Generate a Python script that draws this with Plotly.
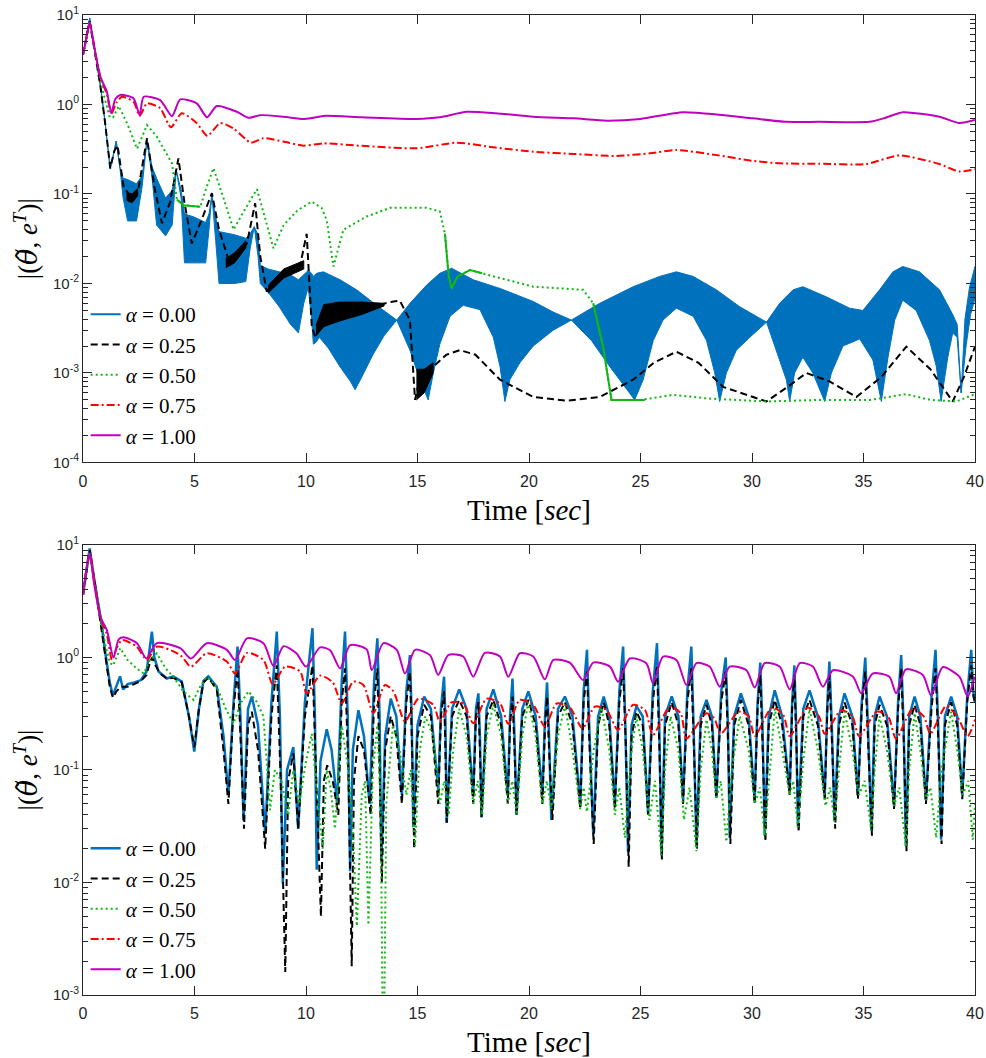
import plotly.graph_objects as go

# ---------------- TOP PANEL DATA ----------------
top_mag_x = [0, 0.15, 0.3, 0.5, 0.78, 1.07, 1.27, 1.45, 1.67, 2.27, 2.54, 2.72, 3.46, 3.99, 4.36, 5.1, 5.56, 6.0, 6.9, 7.42, 7.94, 8.98, 9.88, 10.2, 10.78, 12.5, 14.96, 16.0, 17.2, 18.5, 20.19, 22.0, 23.48, 25.0, 26.9, 28.5, 30.04, 31.54, 33.0, 35.27, 35.9, 36.76, 38.4, 39.3, 40.0]
top_mag_y = [3.6, 5.5, 8.2, 4.5, 2.04, 1.39, 0.80, 1.15, 1.28, 1.17, 0.76, 1.22, 1.12, 0.74, 1.14, 1.03, 0.72, 0.96, 0.83, 0.71, 0.76, 0.73, 0.69, 0.70, 0.745, 0.72, 0.69, 0.72, 0.83, 0.80, 0.73, 0.70, 0.66, 0.69, 0.82, 0.77, 0.70, 0.64, 0.64, 0.64, 0.70, 0.82, 0.73, 0.62, 0.67]

top_red_x = [0, 0.15, 0.3, 0.5, 0.78, 1.07, 1.27, 1.5, 1.75, 2.27, 2.54, 2.87, 3.46, 3.94, 4.43, 5.1, 5.58, 6.15, 6.75, 7.53, 8.09, 8.99, 9.88, 10.77, 12.5, 14.96, 16.76, 18.5, 20.19, 22.0, 23.92, 25.42, 26.61, 28.5, 30.0, 31.24, 33.0, 35.12, 36.61, 38.41, 39.3, 40.0]
top_red_y = [3.6, 5.5, 8.2, 4.5, 2.0, 1.3, 0.78, 1.05, 1.22, 1.07, 0.745, 1.03, 0.91, 0.556, 0.80, 0.62, 0.445, 0.62, 0.54, 0.374, 0.42, 0.385, 0.347, 0.368, 0.345, 0.324, 0.374, 0.33, 0.297, 0.28, 0.266, 0.285, 0.31, 0.27, 0.235, 0.22, 0.218, 0.216, 0.27, 0.216, 0.178, 0.189]

top_green_x = [0, 0.15, 0.3, 0.5, 0.78, 1.0, 1.2, 1.35, 1.6, 2.0, 2.42, 2.87, 3.31, 3.99, 4.21, 4.5, 5.26, 5.55, 5.85, 6.3, 6.75, 7.3, 7.8, 8.2, 8.54, 9.0, 9.6, 10.26, 10.7, 10.93, 11.23, 11.68, 12.72, 13.77, 15.41, 16.0, 16.23, 16.4, 16.53, 16.8, 17.35, 18.7, 20.19, 22.43, 22.88, 23.32, 23.7, 24.0, 25.0, 26.46, 27.96, 30.65, 33.0, 35.3, 36.9, 38.0, 39.16, 40.0]
top_green_y = [3.6, 5.5, 8.5, 4.3, 1.8, 1.1, 0.72, 0.72, 0.96, 0.6, 0.32, 0.59, 0.437, 0.22, 0.087, 0.075, 0.072, 0.121, 0.194, 0.09, 0.04, 0.07, 0.113, 0.05, 0.0247, 0.045, 0.065, 0.082, 0.07, 0.051, 0.0155, 0.04, 0.056, 0.070, 0.070, 0.064, 0.036, 0.012, 0.0088, 0.012, 0.0141, 0.0115, 0.0092, 0.0085, 0.006, 0.00197, 0.0005, 0.0005, 0.0005, 0.00057, 0.00052, 0.00048, 0.0005, 0.0005, 0.00058, 0.0005, 0.00048, 0.00058]
# parts of the alpha = 0.50 curve where fast ripple makes the dotted line look solid
top_green_solid = [
    [(4.21, 0.087), (4.5, 0.075), (5.26, 0.072)],
    [(16.23, 0.036), (16.4, 0.012), (16.53, 0.0088), (16.8, 0.012), (17.35, 0.0141), (17.9, 0.013)],
    [(22.88, 0.006), (23.32, 0.00197), (23.7, 0.0005), (24.0, 0.0005), (25.2, 0.0005)],
]

top_black_x = [0, 0.15, 0.3, 0.5, 0.78, 1.0, 1.22, 1.4, 1.55, 1.82, 2.19, 2.5, 2.87, 3.2, 3.54, 3.9, 4.28, 4.55, 4.88, 5.3, 5.78, 6.1, 6.6, 7.35, 7.72, 7.95, 8.24, 8.99, 9.74, 10.03, 10.26, 10.41, 11.08, 12.5, 13.92, 14.21, 14.66, 14.89, 15.11, 15.71, 16.3, 16.9, 17.6, 18.7, 20.19, 21.68, 23.17, 24.67, 25.6, 26.61, 27.6, 28.7, 30.65, 31.6, 32.44, 33.5, 34.68, 35.8, 36.92, 38.0, 39.0, 39.5, 40.0]
top_black_y = [3.6, 5.5, 8.5, 4.3, 1.6, 0.6, 0.194, 0.3, 0.35, 0.12, 0.0895, 0.12, 0.42, 0.12, 0.047, 0.08, 0.25, 0.08, 0.028, 0.05, 0.102, 0.04, 0.0161, 0.028, 0.0787, 0.02, 0.0081, 0.013, 0.016, 0.036, 0.0033, 0.00255, 0.00506, 0.0052, 0.0063, 0.0064, 0.0039, 0.0005, 0.0009, 0.00118, 0.0016, 0.0018, 0.0016, 0.00084, 0.00054, 0.00049, 0.00054, 0.00084, 0.0013, 0.00173, 0.0013, 0.0007, 0.00048, 0.0007, 0.001, 0.0008, 0.00054, 0.0009, 0.00197, 0.0011, 0.00048, 0.0009, 0.00197]

# thick (fast-oscillation) parts of the black curve: (upper envelope, lower envelope)
top_black_bands = [
    ([(1.95, 0.105), (2.2, 0.1), (2.45, 0.115)], [(1.95, 0.085), (2.2, 0.08), (2.45, 0.095)]),
    ([(6.4, 0.019), (6.8, 0.022), (7.3, 0.03)], [(6.4, 0.015), (6.8, 0.017), (7.3, 0.025)]),
    ([(8.3, 0.0095), (9.0, 0.0145), (9.9, 0.018)], [(8.3, 0.0078), (9.0, 0.0115), (9.9, 0.0145)]),
    ([(10.45, 0.0034), (10.8, 0.0058), (11.5, 0.0062), (12.5, 0.0062), (13.5, 0.006)],
     [(10.45, 0.0026), (10.8, 0.0033), (11.5, 0.0038), (12.5, 0.0045), (13.5, 0.0056)]),
    ([(14.95, 0.0011), (15.3, 0.0011), (15.7, 0.0013)], [(14.95, 0.0005), (15.3, 0.0006), (15.7, 0.001)]),
]

# alpha = 0 curve oscillates fast: upper / lower envelopes
top_blue_hi = [(0, 3.6), (0.15, 6.0), (0.3, 9.2), (0.5, 4.5), (0.8, 1.5), (1.0, 0.6), (1.22, 0.19), (1.35, 0.26), (1.49, 0.39), (1.65, 0.2), (1.8, 0.15), (2.0, 0.145), (2.4, 0.13), (2.65, 0.16), (2.87, 0.40), (3.1, 0.2), (3.3, 0.15), (3.7, 0.09), (4.0, 0.11), (4.18, 0.185), (4.4, 0.11), (4.55, 0.06), (5.0, 0.055), (5.5, 0.048), (5.65, 0.06), (5.78, 0.098), (5.95, 0.055), (6.1, 0.038), (6.8, 0.035), (7.3, 0.032), (7.5, 0.036), (7.68, 0.043), (7.85, 0.035), (7.95, 0.016), (8.3, 0.0145), (8.8, 0.0135), (9.3, 0.0125), (9.66, 0.011), (9.9, 0.0125), (10.1, 0.014), (10.25, 0.013), (10.33, 0.012), (10.48, 0.013), (10.78, 0.0135), (11.53, 0.011), (12.27, 0.0085), (13.17, 0.0057), (14.07, 0.0039), (14.66, 0.006), (15.41, 0.0096), (16.0, 0.013), (16.53, 0.0148), (17.5, 0.011), (18.7, 0.0088), (20.19, 0.0063), (21.08, 0.0048), (21.9, 0.0039), (23.17, 0.006), (24.67, 0.0092), (25.86, 0.012), (26.61, 0.0135), (27.36, 0.012), (28.4, 0.0085), (29.45, 0.0055), (30.65, 0.0037), (31.24, 0.006), (31.84, 0.0085), (32.28, 0.0092), (33.33, 0.0071), (34.38, 0.0053), (34.97, 0.005), (35.72, 0.0085), (36.32, 0.0135), (36.76, 0.0155), (37.51, 0.0135), (38.41, 0.0085), (39.0, 0.0045), (39.2, 0.0035), (39.38, 0.0006), (39.55, 0.004), (39.75, 0.009), (40.0, 0.0155)]
top_blue_lo = [(0, 3.6), (0.15, 6.0), (0.3, 9.2), (0.5, 4.5), (0.8, 1.5), (1.0, 0.6), (1.22, 0.19), (1.35, 0.26), (1.49, 0.39), (1.65, 0.2), (1.8, 0.09), (2.0, 0.05), (2.4, 0.05), (2.65, 0.12), (2.87, 0.40), (3.1, 0.15), (3.3, 0.045), (3.7, 0.034), (4.0, 0.045), (4.18, 0.185), (4.4, 0.09), (4.55, 0.017), (5.0, 0.017), (5.5, 0.017), (5.65, 0.04), (5.78, 0.098), (5.95, 0.03), (6.1, 0.01), (6.8, 0.01), (7.3, 0.0105), (7.5, 0.025), (7.68, 0.043), (7.85, 0.02), (7.95, 0.01), (8.3, 0.008), (8.8, 0.0055), (9.3, 0.0035), (9.66, 0.0028), (9.9, 0.006), (10.1, 0.009), (10.25, 0.004), (10.33, 0.0021), (10.45, 0.0022), (10.6, 0.0025), (11.0, 0.0019), (11.5, 0.0012), (12.0, 0.0008), (12.2, 0.00065), (12.5, 0.0009), (13.0, 0.0016), (13.5, 0.0026), (14.07, 0.0039), (14.66, 0.0018), (15.11, 0.00084), (15.48, 0.0005), (15.71, 0.001), (16.0, 0.0021), (16.46, 0.0043), (17.05, 0.0057), (17.8, 0.0051), (18.4, 0.0025), (18.7, 0.00118), (18.92, 0.00048), (19.14, 0.00084), (19.59, 0.0013), (20.19, 0.002), (21.08, 0.003), (21.9, 0.0039), (22.8, 0.0023), (23.6, 0.0012), (24.3, 0.0007), (24.74, 0.0005), (25.12, 0.00084), (25.57, 0.0023), (26.01, 0.0039), (26.61, 0.0053), (27.36, 0.0043), (27.96, 0.0023), (28.33, 0.001), (28.55, 0.00048), (28.85, 0.001), (29.3, 0.0018), (29.9, 0.0025), (30.65, 0.0037), (31.09, 0.0018), (31.54, 0.00084), (31.69, 0.00048), (31.91, 0.001), (32.28, 0.0015), (32.73, 0.001), (33.26, 0.00048), (33.56, 0.001), (34.08, 0.002), (34.83, 0.0024), (35.42, 0.0014), (35.8, 0.00048), (36.1, 0.0015), (36.4, 0.0039), (36.76, 0.0065), (37.36, 0.005), (37.96, 0.0023), (38.26, 0.0012), (38.48, 0.00048), (38.78, 0.0015), (39.0, 0.0028), (39.2, 0.0025), (39.38, 0.0006), (39.6, 0.002), (39.8, 0.0045), (40.0, 0.0068)]

# ---------------- BOTTOM PANEL DATA ----------------
bot_mag = [(0, 3.6), (0.15, 6.0), (0.3, 8.4), (0.5, 4.5), (0.78, 2.3), (1.07, 1.75), (1.37, 1.0), (1.6, 1.45), (1.82, 1.51), (2.42, 1.34), (2.84, 0.98), (3.31, 1.34), (4.36, 1.21), (4.84, 0.98), (5.55, 1.34), (6.45, 1.17), (6.82, 0.95), (7.35, 1.48), (8.09, 1.34), (8.54, 0.84), (8.99, 1.26), (9.57, 1.09), (10.0, 0.83), (10.63, 1.23), (11.08, 1.16), (11.53, 0.80), (11.98, 1.29), (12.72, 1.18), (12.95, 0.77), (13.47, 1.34), (14.07, 1.17), (14.44, 0.72), (14.89, 1.17), (15.56, 1.05), (15.93, 0.70), (16.38, 1.05), (17.05, 1.02), (17.5, 0.675), (18.02, 1.10), (18.7, 1.02), (19.07, 0.675), (19.59, 1.09), (20.19, 1.02), (20.71, 0.64), (21.09, 0.95), (21.83, 0.90), (22.43, 0.63), (22.88, 0.90), (23.63, 0.83), (23.99, 0.61), (24.52, 0.98), (25.26, 0.89), (25.56, 0.59), (26.01, 1.02), (26.61, 0.95), (27.06, 0.57), (27.51, 0.89), (28.1, 0.83), (28.55, 0.55), (29.0, 0.83), (29.75, 0.77), (30.12, 0.54), (30.57, 0.89), (31.24, 0.83), (31.69, 0.52), (32.14, 0.89), (32.73, 0.83), (33.18, 0.55), (33.63, 0.77), (34.53, 0.675), (34.9, 0.48), (35.41, 0.72), (36.16, 0.675), (36.46, 0.48), (36.9, 0.785), (37.66, 0.70), (38.03, 0.46), (38.55, 0.82), (39.3, 0.675), (39.67, 0.45), (39.98, 0.675)]

bot_red = [(0, 3.6), (0.15, 6.0), (0.3, 8.5), (0.5, 5.0), (0.8, 2.2), (1.07, 1.6), (1.3, 0.95), (1.5, 1.2), (1.75, 1.43), (2.4, 1.25), (2.87, 0.95), (3.31, 1.25), (4.36, 1.05), (4.84, 0.83), (5.55, 1.09), (6.45, 0.92), (6.82, 0.72), (7.35, 1.1), (8.09, 0.95), (8.51, 0.58), (9.07, 0.83), (9.74, 0.75), (10.03, 0.48), (10.63, 0.69), (11.2, 0.6), (11.6, 0.39), (12.12, 0.61), (12.57, 0.57), (13.02, 0.32), (13.54, 0.57), (13.92, 0.5), (14.44, 0.27), (15.04, 0.43), (15.71, 0.38), (16.0, 0.27), (16.53, 0.40), (17.05, 0.39), (17.5, 0.26), (18.1, 0.43), (18.7, 0.39), (19.07, 0.257), (19.59, 0.42), (20.19, 0.38), (20.71, 0.243), (21.24, 0.39), (21.83, 0.36), (22.4, 0.234), (22.95, 0.366), (23.48, 0.34), (23.99, 0.227), (24.67, 0.38), (25.2, 0.34), (25.56, 0.205), (26.31, 0.366), (26.8, 0.32), (27.06, 0.19), (27.96, 0.32), (28.3, 0.29), (28.6, 0.21), (29.4, 0.33), (29.85, 0.3), (30.12, 0.20), (30.9, 0.36), (31.4, 0.31), (31.69, 0.2), (32.5, 0.36), (33.0, 0.3), (33.26, 0.21), (34.0, 0.34), (34.5, 0.3), (34.8, 0.2), (35.6, 0.33), (36.1, 0.3), (36.46, 0.19), (37.2, 0.35), (37.7, 0.3), (38.0, 0.21), (38.7, 0.37), (39.2, 0.3), (39.67, 0.2), (40.0, 0.28)]

bot_green = [(0, 3.6), (0.15, 6.0), (0.3, 8.5), (0.5, 5.0), (0.8, 2.1), (1.0, 1.3), (1.2, 0.9), (1.35, 0.85), (1.67, 1.21), (2.0, 0.95), (2.4, 0.8), (2.72, 0.72), (3.0, 0.95), (3.31, 1.09), (3.7, 0.8), (4.05, 0.675), (4.5, 0.5), (4.96, 0.42), (5.25, 0.55), (5.55, 0.675), (6.0, 0.55), (6.4, 0.35), (6.75, 0.26), (7.1, 0.4), (7.42, 0.5), (7.8, 0.4), (8.09, 0.3), (8.39, 0.044), (8.6, 0.1), (8.9, 0.08), (9.2, 0.04), (9.43, 0.1), (9.7, 0.05), (10.0, 0.12), (10.26, 0.21), (10.5, 0.06), (10.75, 0.02), (10.93, 0.1), (11.1, 0.07), (11.3, 0.03), (11.6, 0.25), (11.9, 0.1), (12.1, 0.03), (12.28, 0.0041), (12.5, 0.06), (12.65, 0.08), (12.8, 0.0042), (13.0, 0.1), (13.2, 0.25), (13.35, 0.05), (13.47, 0.0001), (13.6, 0.05), (13.9, 0.25), (14.2, 0.15), (14.5, 0.06), (14.7, 0.1), (14.89, 0.021), (15.1, 0.15), (15.35, 0.3), (15.7, 0.2), (16.0, 0.05), (16.2, 0.08), (16.4, 0.04), (16.6, 0.15), (16.87, 0.35), (17.2, 0.2), (17.5, 0.05), (17.7, 0.08), (17.9, 0.04), (18.1, 0.2), (18.4, 0.38), (18.75, 0.2), (19.05, 0.05), (19.25, 0.08), (19.45, 0.04), (19.7, 0.2), (19.97, 0.4), (20.3, 0.2), (20.6, 0.05), (20.8, 0.08), (21.0, 0.045), (21.3, 0.2), (21.61, 0.38), (21.95, 0.15), (22.3, 0.045), (22.45, 0.07), (22.6, 0.0426), (22.9, 0.15), (23.25, 0.36), (23.6, 0.15), (23.85, 0.04), (24.05, 0.07), (24.3, 0.025), (24.6, 0.15), (24.82, 0.3), (25.1, 0.15), (25.4, 0.036), (25.65, 0.08), (25.94, 0.0175), (26.1, 0.1), (26.35, 0.3), (26.7, 0.15), (26.95, 0.036), (27.2, 0.07), (27.51, 0.019), (27.7, 0.1), (27.96, 0.28), (28.2, 0.15), (28.4, 0.055), (28.6, 0.08), (28.85, 0.023), (29.1, 0.1), (29.45, 0.3), (29.85, 0.15), (30.12, 0.05), (30.35, 0.07), (30.57, 0.026), (30.8, 0.1), (31.02, 0.35), (31.35, 0.15), (31.69, 0.06), (31.85, 0.08), (32.06, 0.031), (32.3, 0.12), (32.58, 0.35), (32.95, 0.15), (33.3, 0.048), (33.5, 0.07), (33.7, 0.035), (33.9, 0.1), (34.15, 0.33), (34.5, 0.15), (34.8, 0.06), (35.05, 0.08), (35.35, 0.029), (35.5, 0.1), (35.72, 0.3), (36.05, 0.15), (36.37, 0.048), (36.6, 0.07), (36.9, 0.021), (37.05, 0.1), (37.29, 0.32), (37.55, 0.15), (37.8, 0.054), (38.0, 0.07), (38.26, 0.025), (38.5, 0.1), (38.93, 0.33), (39.2, 0.15), (39.45, 0.06), (39.7, 0.08), (39.9, 0.024), (40.0, 0.05)]

bot_black = [(0, 3.6), (0.15, 6.0), (0.3, 9.0), (0.5, 5.0), (0.8, 2.0), (1.0, 1.0), (1.2, 0.55), (1.34, 0.44), (1.5, 0.5), (1.7, 0.55), (2.0, 0.55), (2.3, 0.58), (2.6, 0.62), (2.85, 0.7), (3.0, 0.9), (3.1, 1.0), (3.25, 0.85), (3.45, 0.72), (3.76, 0.65), (4.05, 0.66), (4.43, 0.6), (4.75, 0.3), (4.99, 0.16), (5.2, 0.35), (5.4, 0.6), (5.62, 0.66), (6.0, 0.52), (6.3, 0.15), (6.52, 0.05), (6.75, 0.35), (6.93, 0.8), (7.06, 0.2), (7.22, 0.03), (7.4, 0.25), (7.57, 0.33), (7.85, 0.15), (8.17, 0.02), (8.45, 0.3), (8.69, 0.85), (8.85, 0.1), (9.07, 0.0016), (9.2, 0.08), (9.43, 0.14), (9.65, 0.03), (9.95, 0.3), (10.29, 0.85), (10.45, 0.1), (10.67, 0.005), (10.8, 0.08), (10.95, 0.11), (11.2, 0.08), (11.45, 0.04), (11.6, 0.4), (11.75, 0.8), (11.9, 0.1), (12.05, 0.0018), (12.15, 0.08), (12.35, 0.2), (12.6, 0.15), (12.9, 0.04), (13.05, 0.4), (13.2, 0.8), (13.3, 0.1), (13.4, 0.01), (13.55, 0.15), (13.8, 0.3), (14.05, 0.2), (14.3, 0.05), (14.5, 0.4), (14.66, 0.75), (14.76, 0.15), (14.85, 0.02), (15.0, 0.2), (15.3, 0.38), (15.6, 0.3), (15.93, 0.05), (16.05, 0.3), (16.19, 0.5), (16.25, 0.15), (16.31, 0.034), (16.55, 0.3), (16.87, 0.42), (17.2, 0.3), (17.5, 0.05), (17.62, 0.3), (17.73, 0.4), (17.8, 0.15), (17.87, 0.038), (18.1, 0.3), (18.4, 0.42), (18.75, 0.25), (19.05, 0.05), (19.15, 0.25), (19.26, 0.45), (19.35, 0.15), (19.44, 0.04), (19.7, 0.3), (19.97, 0.42), (20.3, 0.25), (20.6, 0.05), (20.72, 0.25), (20.81, 0.45), (20.9, 0.15), (21.05, 0.036), (21.3, 0.3), (21.61, 0.4), (21.95, 0.25), (22.3, 0.045), (22.45, 0.4), (22.6, 0.75), (22.72, 0.15), (22.9, 0.022), (23.1, 0.25), (23.35, 0.4), (23.6, 0.25), (23.85, 0.045), (24.05, 0.4), (24.22, 0.8), (24.35, 0.15), (24.47, 0.0138), (24.6, 0.2), (24.82, 0.33), (25.1, 0.25), (25.34, 0.04), (25.55, 0.4), (25.74, 0.85), (25.85, 0.15), (25.96, 0.016), (26.1, 0.25), (26.4, 0.4), (26.7, 0.25), (26.91, 0.05), (27.1, 0.4), (27.28, 0.8), (27.4, 0.15), (27.53, 0.02), (27.7, 0.25), (27.96, 0.38), (28.2, 0.25), (28.4, 0.055), (28.62, 0.4), (28.82, 0.75), (28.94, 0.15), (29.03, 0.022), (29.2, 0.25), (29.5, 0.42), (29.85, 0.25), (30.12, 0.05), (30.25, 0.35), (30.37, 0.7), (30.48, 0.15), (30.6, 0.023), (30.75, 0.25), (31.02, 0.42), (31.35, 0.25), (31.69, 0.06), (31.8, 0.35), (31.9, 0.7), (32.0, 0.15), (32.09, 0.028), (32.3, 0.3), (32.58, 0.42), (32.95, 0.25), (33.26, 0.055), (33.38, 0.35), (33.47, 0.7), (33.6, 0.15), (33.73, 0.03), (33.9, 0.25), (34.15, 0.4), (34.5, 0.25), (34.75, 0.055), (34.92, 0.35), (35.08, 0.75), (35.22, 0.15), (35.38, 0.026), (35.5, 0.25), (35.72, 0.38), (36.05, 0.25), (36.37, 0.045), (36.55, 0.35), (36.69, 0.8), (36.82, 0.15), (36.93, 0.019), (37.05, 0.25), (37.29, 0.38), (37.55, 0.25), (37.8, 0.05), (38.05, 0.35), (38.23, 0.8), (38.37, 0.15), (38.5, 0.022), (38.65, 0.25), (38.93, 0.4), (39.2, 0.25), (39.43, 0.055), (39.65, 0.4), (39.83, 0.85), (39.93, 0.45), (40.0, 0.4)]

bot_blue = [(0, 3.6), (0.15, 6.0), (0.3, 9.3), (0.5, 5.0), (0.8, 2.2), (1.0, 1.1), (1.2, 0.6), (1.34, 0.46), (1.5, 0.55), (1.66, 0.68), (1.8, 0.52), (2.0, 0.58), (2.3, 0.6), (2.6, 0.63), (2.85, 0.75), (3.0, 1.2), (3.09, 1.7), (3.2, 1.0), (3.39, 0.75), (3.76, 0.65), (4.05, 0.68), (4.43, 0.61), (4.75, 0.3), (4.99, 0.146), (5.2, 0.35), (5.4, 0.62), (5.62, 0.68), (6.0, 0.55), (6.3, 0.2), (6.52, 0.06), (6.75, 0.4), (6.93, 1.25), (7.06, 0.3), (7.2, 0.036), (7.4, 0.35), (7.57, 0.45), (7.85, 0.25), (8.17, 0.027), (8.45, 0.4), (8.69, 1.7), (8.83, 0.3), (8.96, 0.0098), (9.15, 0.1), (9.43, 0.16), (9.65, 0.03), (9.95, 0.4), (10.15, 1.0), (10.29, 1.82), (10.4, 0.3), (10.48, 0.013), (10.65, 0.12), (10.93, 0.23), (11.15, 0.15), (11.4, 0.05), (11.6, 0.6), (11.75, 1.7), (11.87, 0.3), (11.98, 0.0126), (12.1, 0.15), (12.35, 0.34), (12.6, 0.2), (12.85, 0.05), (13.05, 0.6), (13.2, 1.48), (13.3, 0.3), (13.38, 0.0158), (13.55, 0.2), (13.8, 0.43), (14.05, 0.3), (14.3, 0.06), (14.5, 0.5), (14.66, 1.05), (14.74, 0.3), (14.81, 0.031), (15.0, 0.25), (15.3, 0.45), (15.6, 0.35), (15.93, 0.066), (16.05, 0.35), (16.19, 0.675), (16.25, 0.3), (16.31, 0.034), (16.55, 0.35), (16.87, 0.52), (17.2, 0.35), (17.5, 0.06), (17.62, 0.35), (17.73, 0.48), (17.8, 0.2), (17.87, 0.038), (18.1, 0.35), (18.4, 0.52), (18.75, 0.3), (19.05, 0.06), (19.15, 0.3), (19.26, 0.65), (19.35, 0.2), (19.44, 0.04), (19.7, 0.35), (19.97, 0.5), (20.3, 0.3), (20.6, 0.06), (20.72, 0.3), (20.81, 0.6), (20.9, 0.2), (21.0, 0.036), (21.3, 0.35), (21.61, 0.45), (21.95, 0.3), (22.3, 0.05), (22.45, 0.5), (22.6, 1.17), (22.7, 0.25), (22.88, 0.027), (23.1, 0.3), (23.35, 0.45), (23.6, 0.3), (23.85, 0.05), (24.05, 0.5), (24.22, 1.25), (24.32, 0.25), (24.44, 0.0188), (24.6, 0.25), (24.82, 0.37), (25.1, 0.3), (25.34, 0.041), (25.55, 0.5), (25.74, 1.34), (25.84, 0.25), (25.94, 0.0175), (26.1, 0.3), (26.4, 0.45), (26.7, 0.3), (26.91, 0.054), (27.1, 0.5), (27.28, 1.25), (27.38, 0.25), (27.51, 0.021), (27.7, 0.3), (27.96, 0.42), (28.2, 0.3), (28.4, 0.058), (28.62, 0.5), (28.82, 1.0), (28.92, 0.25), (29.0, 0.025), (29.2, 0.3), (29.5, 0.48), (29.85, 0.3), (30.12, 0.054), (30.25, 0.4), (30.37, 0.9), (30.47, 0.25), (30.57, 0.026), (30.75, 0.3), (31.02, 0.51), (31.35, 0.3), (31.69, 0.064), (31.8, 0.4), (31.9, 0.85), (31.98, 0.25), (32.06, 0.031), (32.3, 0.35), (32.58, 0.51), (32.95, 0.3), (33.26, 0.057), (33.38, 0.4), (33.47, 0.92), (33.58, 0.25), (33.7, 0.035), (33.9, 0.3), (34.15, 0.48), (34.5, 0.3), (34.75, 0.06), (34.92, 0.4), (35.08, 1.0), (35.2, 0.25), (35.35, 0.029), (35.5, 0.3), (35.72, 0.45), (36.05, 0.3), (36.37, 0.048), (36.55, 0.4), (36.69, 1.05), (36.8, 0.25), (36.9, 0.021), (37.05, 0.3), (37.29, 0.45), (37.55, 0.3), (37.8, 0.054), (38.05, 0.45), (38.23, 1.17), (38.35, 0.25), (38.48, 0.024), (38.65, 0.3), (38.93, 0.45), (39.2, 0.3), (39.43, 0.06), (39.65, 0.45), (39.83, 1.17), (39.92, 0.5), (40.0, 0.4)]

# ---------------- labels / styles ----------------
alphas = ["0.00", "0.25", "0.50", "0.75", "1.00"]
colors = ["#0072BD", "#000000", "#12B812", "#FF0000", "#BF00BF"]
dashes = ["solid", "7px,4px", "2px,3px", "8px,3px,2px,3px", "solid"]
y_ticks = [1e-4, 1e-3, 1e-2, 1e-1, 1e0, 1e1]
y_ticktext = ["10<sup>-4</sup>", "10<sup>-3</sup>", "10<sup>-2</sup>", "10<sup>-1</sup>", "10<sup>0</sup>", "10<sup>1</sup>"]
x_ticks = [0, 5, 10, 15, 20, 25, 30, 35, 40]


def xs(p):
    return [a for a, b in p]


def ys(p):
    return [b for a, b in p]


fig = go.Figure()
LW = 2.0


def leg_name(i):
    return "<i>α</i> = " + alphas[i]


# ---- top panel ----
band_x = xs(top_blue_hi) + xs(top_blue_lo)[::-1]
band_y = ys(top_blue_hi) + ys(top_blue_lo)[::-1]
fig.add_trace(go.Scatter(x=band_x, y=band_y, mode="lines", fill="toself", fillcolor=colors[0],
                         line=dict(color=colors[0], width=1), hoverinfo="skip", showlegend=False,
                         xaxis="x", yaxis="y"))
fig.add_trace(go.Scatter(x=[None], y=[None], mode="lines", name=leg_name(0),
                         line=dict(color=colors[0], width=LW), legend="legend", xaxis="x", yaxis="y"))
fig.add_trace(go.Scatter(x=top_black_x, y=top_black_y, mode="lines", name=leg_name(1),
                         line=dict(color=colors[1], width=LW, dash=dashes[1]), legend="legend",
                         xaxis="x", yaxis="y"))
bb_x, bb_y = [], []
for hi, lo in top_black_bands:
    bb_x += xs(hi) + xs(lo)[::-1] + [None]
    bb_y += ys(hi) + ys(lo)[::-1] + [None]
fig.add_trace(go.Scatter(x=bb_x, y=bb_y, mode="lines", fill="toself", fillcolor="black",
                         line=dict(color="black", width=1), hoverinfo="skip", showlegend=False,
                         xaxis="x", yaxis="y"))
fig.add_trace(go.Scatter(x=top_green_x, y=top_green_y, mode="lines", name=leg_name(2),
                         line=dict(color=colors[2], width=LW, dash=dashes[2]), legend="legend",
                         xaxis="x", yaxis="y"))
gs_x, gs_y = [], []
for seg in top_green_solid:
    gs_x += xs(seg) + [None]
    gs_y += ys(seg) + [None]
fig.add_trace(go.Scatter(x=gs_x, y=gs_y, mode="lines", line=dict(color=colors[2], width=LW),
                         hoverinfo="skip", showlegend=False, xaxis="x", yaxis="y"))
fig.add_trace(go.Scatter(x=top_red_x, y=top_red_y, mode="lines", name=leg_name(3), line_shape="spline",
                         line=dict(color=colors[3], width=LW, dash=dashes[3], smoothing=0.6), legend="legend",
                         xaxis="x", yaxis="y"))
fig.add_trace(go.Scatter(x=top_mag_x, y=top_mag_y, mode="lines", name=leg_name(4), line_shape="spline",
                         line=dict(color=colors[4], width=LW, smoothing=0.6), legend="legend",
                         xaxis="x", yaxis="y"))

# ---- bottom panel ----
bot_series = [bot_blue, bot_black, bot_green, bot_red, bot_mag]
bot_widths = [2.5, 2.0, 2.0, 2.0, 2.0]
for i, s in enumerate(bot_series):
    smooth = i >= 3
    fig.add_trace(go.Scatter(x=xs(s), y=ys(s), mode="lines", name=leg_name(i),
                             line_shape="spline" if smooth else "linear",
                             line=dict(color=colors[i], width=bot_widths[i], dash=dashes[i],
                                       smoothing=0.7 if smooth else None),
                             legend="legend2", xaxis="x2", yaxis="y2"))

minor_top = [m * 10.0 ** e for e in range(-4, 1) for m in range(2, 10)]
minor_bot = [m * 10.0 ** e for e in range(-3, 1) for m in range(2, 10)]

xtickfont = dict(family="Liberation Sans, Arial, sans-serif", size=16, color="#262626")
ytickfont = dict(family="Liberation Sans, Arial, sans-serif", size=15, color="#262626")
ax_common = dict(showline=True, linecolor="#262626", linewidth=1, mirror="ticks", ticks="inside",
                 tickcolor="#262626", showgrid=False, zeroline=False, automargin=False,
                 ticklabeloverflow="allow")
xtitle = dict(text="Time [<i>sec</i>]", font=dict(family="Liberation Serif, serif", size=29, color="black"),
              standoff=11)
ytitle = dict(text="|(<span style=\"font-family:'DejaVu Serif'\"><i>θ̃</i></span>, <i>e</i><sup><i>T</i></sup>)|",
              font=dict(family="Liberation Serif, serif", size=27, color="black"), standoff=7)

fig.update_layout(
    width=986, height=1058, plot_bgcolor="white", paper_bgcolor="white",
    margin=dict(l=83, r=11, t=15, b=63, autoexpand=False),
    xaxis=dict(domain=[0, 1], range=[0, 40], tickvals=x_ticks, ticklen=9, anchor="y", title=xtitle,
               tickfont=xtickfont, ticklabelstandoff=4, **ax_common),
    yaxis=dict(domain=[0.5434, 1], type="log", range=[-4, 1], tickvals=y_ticks, ticktext=y_ticktext,
               ticklen=9, anchor="x", title=ytitle, tickfont=ytickfont,
               minor=dict(tickvals=minor_top, ticks="inside", ticklen=5, tickcolor="#262626"), **ax_common),
    xaxis2=dict(domain=[0, 1], range=[0, 40], tickvals=x_ticks, ticklen=9, anchor="y2", title=xtitle,
                tickfont=xtickfont, ticklabelstandoff=4, **ax_common),
    yaxis2=dict(domain=[0, 0.4592], type="log", range=[-3, 1], tickvals=y_ticks[1:], ticktext=y_ticktext[1:],
                ticklen=9, anchor="x2", title=ytitle, tickfont=ytickfont,
                minor=dict(tickvals=minor_bot, ticks="inside", ticklen=5, tickcolor="#262626"), **ax_common),
    legend=dict(x=0.003, y=0.7153, xanchor="left", yanchor="top", bgcolor="rgba(255,255,255,0)",
                font=dict(family="Liberation Serif, serif", size=21, color="black"), tracegroupgap=0,
                itemwidth=30),
    legend2=dict(x=0.003, y=0.1704, xanchor="left", yanchor="top", bgcolor="rgba(255,255,255,0)",
                 font=dict(family="Liberation Serif, serif", size=21, color="black"), tracegroupgap=0,
                 itemwidth=30),
)

# remove the default 8 px page margin so the figure fills the window exactly
fig.write_html("out.html", config={"displayModeBar": False},
               post_script="document.body.style.margin='0';")
